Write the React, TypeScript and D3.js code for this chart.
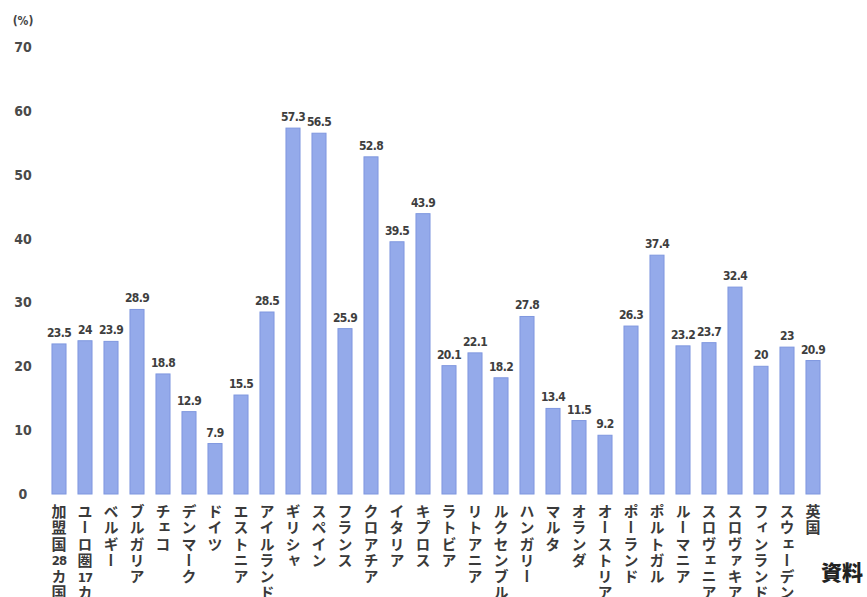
import React from "react";
import * as d3 from "d3";

const categories = [
  "加盟国28カ国", "ユーロ圏17カ国", "ベルギー", "ブルガリア", "チェコ", "デンマーク", "ドイツ",
  "エストニア", "アイルランド", "ギリシャ", "スペイン", "フランス", "クロアチア", "イタリア",
  "キプロス", "ラトビア", "リトアニア", "ルクセンブルク", "ハンガリー", "マルタ", "オランダ",
  "オーストリア", "ポーランド", "ポルトガル", "ルーマニア", "スロヴェニア", "スロヴァキア",
  "フィンランド", "スウェーデン", "英国",
];
const values = [
  23.5, 24, 23.9, 28.9, 18.8, 12.9, 7.9, 15.5, 28.5, 57.3, 56.5, 25.9, 52.8, 39.5, 43.9,
  20.1, 22.1, 18.2, 27.8, 13.4, 11.5, 9.2, 26.3, 37.4, 23.2, 23.7, 32.4, 20, 23, 20.9,
];
const valueLabels = [
  "23.5", "24", "23.9", "28.9", "18.8", "12.9", "7.9", "15.5", "28.5", "57.3", "56.5", "25.9",
  "52.8", "39.5", "43.9", "20.1", "22.1", "18.2", "27.8", "13.4", "11.5", "9.2", "26.3", "37.4",
  "23.2", "23.7", "32.4", "20", "23", "20.9",
];
const yTicks = [0, 10, 20, 30, 40, 50, 60, 70];
const unitLabel = "(%)";
const sourceLabel = "資料：";

const W = 867;
const H = 597;

function tokenize(s: string): string[] {
  const out: string[] = [];
  let i = 0;
  while (i < s.length) {
    if (/[0-9]/.test(s[i])) {
      let j = i;
      while (j < s.length && /[0-9]/.test(s[j])) j++;
      out.push(s.slice(i, j));
      i = j;
    } else {
      out.push(s[i]);
      i++;
    }
  }
  return out;
}

export default function App() {
  const x = d3
    .scaleBand<string>()
    .domain(categories)
    .range([46, 826])
    .paddingInner(0.46)
    .paddingOuter(0.23);
  const y = d3.scaleLinear().domain([0, 70]).range([494, 47]);
  const bw = x.bandwidth();
  const labelFont = "'DejaVu Sans Condensed', 'Liberation Sans Narrow', 'DejaVu Sans', sans-serif";
  const jpFont = "'Noto Sans CJK JP', 'Noto Sans CJK SC', sans-serif";
  const step = 16.2;

  return (
    <svg
      width={W}
      height={H}
      style={{ position: "absolute", left: 0, top: 0, background: "#fff" }}
    >
      <rect x={0} y={0} width={W} height={H} fill="#fff" />
      <text x={23} y={25} textAnchor="middle" fontSize={12} fill="#444" fontFamily={labelFont} fontWeight={700}>
        {unitLabel}
      </text>
      {yTicks.map((t) => (
        <text
          key={t}
          x={23}
          y={y(t)}
          dy="0.36em"
          textAnchor="middle"
          fontSize={14}
          fill="#4a4a4a"
          fontFamily={labelFont}
          fontWeight={700}
        >
          {t}
        </text>
      ))}
      {categories.map((c, i) => {
        const bx = x(c) as number;
        const cx = bx + bw / 2;
        const toks = tokenize(c);
        return (
          <g key={c}>
            <rect
              x={bx}
              y={y(values[i])}
              width={bw}
              height={y(0) - y(values[i])}
              fill="#94aaea"
              stroke="#7f97df"
              strokeWidth={1}
            />
            <text
              x={cx}
              y={y(values[i]) - 7}
              textAnchor="middle"
              fontSize={12}
              fill="#3e3e3e"
              fontFamily={labelFont}
              fontWeight={700}
              letterSpacing={-0.6}
            >
              {valueLabels[i]}
            </text>
            {toks.map((tk, k) => {
              const ty = 504 + k * step;
              if (/^[0-9]+$/.test(tk)) {
                return (
                  <text
                    key={k}
                    x={cx}
                    y={ty + step / 2}
                    dy="0.36em"
                    textAnchor="middle"
                    fontSize={13}
                    fill="#3a3a3a"
                    fontFamily={labelFont}
                    fontWeight={700}
                    letterSpacing={-1}
                  >
                    {tk}
                  </text>
                );
              }
              return (
                <text
                  key={k}
                  x={cx}
                  y={ty}
                  fontSize={15}
                  fill="#3a3a3a"
                  fontFamily={jpFont}
                  fontWeight={700}
                  style={{ writingMode: "vertical-rl", textOrientation: "mixed" } as any}
                >
                  {tk}
                </text>
              );
            })}
          </g>
        );
      })}
      <text x={821} y={580} fontSize={21} fill="#222" fontFamily={jpFont} fontWeight={900}>
        {sourceLabel}
      </text>
    </svg>
  );
}
